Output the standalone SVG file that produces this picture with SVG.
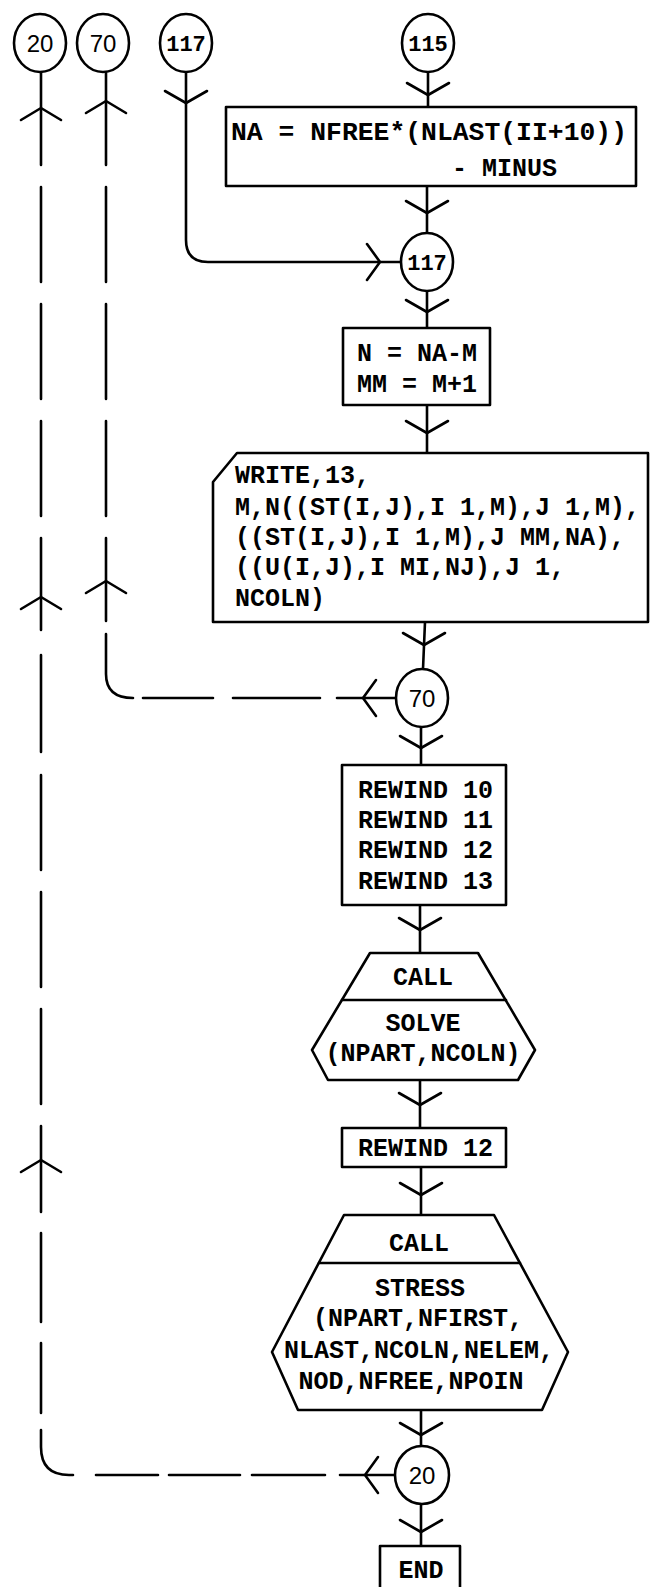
<svg xmlns="http://www.w3.org/2000/svg" xmlns:xlink="http://www.w3.org/1999/xlink" width="650" height="1587" viewBox="0 0 650 1587">
<style>
.s{fill:none;stroke:#000;stroke-width:2.6;stroke-linejoin:round;stroke-linecap:round}
.f{fill:#fff;stroke:#000;stroke-width:2.6;stroke-linejoin:round}
.t{font-family:"Liberation Mono","Courier New",monospace;font-weight:bold;font-size:25px;fill:#000}
.tn{font-family:"Liberation Mono","Courier New",monospace;font-weight:bold;font-size:22px;fill:#000;text-anchor:middle}
.ts{font-family:"Liberation Sans",Arial,sans-serif;font-size:24px;fill:#000;text-anchor:middle}
.m{text-anchor:middle}
</style>
<defs>
<path id="aD" d="M-21,-12 L0,0 L21,-12"/>
<path id="aU" d="M-20,12 L0,0 L20,12"/>
<path id="aL" d="M13,-18 L0,0 L13,18"/>
<path id="aR" d="M-13,-18 L0,0 L-13,18"/>
</defs>
<rect width="650" height="1587" fill="#fff"/>

<g id="connectors" class="s">
  <path d="M41,72 V165 M41,187 V282 M41,304 V399 M41,421 V516 M41,538 V630 M41,655 V752 M41,775 V870 M41,892 V987 M41,1009 V1104 M41,1126 V1212 M41,1233 V1322 M41,1343 V1413"/>
  <path d="M41,1430 V1447 Q41,1475 69,1475 H73 M96,1475 H158 M169,1475 H240 M252,1475 H325 M340,1475 H394"/>
  <use xlink:href="#aU" x="41" y="108"/>
  <use xlink:href="#aU" x="41" y="597"/>
  <use xlink:href="#aU" x="41" y="1160"/>
  <use xlink:href="#aL" x="365" y="1475"/>
  <path d="M106,72 V165 M106,187 V282 M106,304 V399 M106,421 V516 M106,538 V621"/>
  <path d="M106,634 V674 Q106,698 133,698 M143,698 H213 M233,698 H320 M337,698 H396"/>
  <use xlink:href="#aU" x="106" y="101"/>
  <use xlink:href="#aU" x="106" y="581"/>
  <use xlink:href="#aL" x="363" y="698"/>
  <path d="M186,72 V240 Q186,262 208,262 H401"/>
  <use xlink:href="#aD" x="186" y="103"/>
  <use xlink:href="#aR" x="380" y="262"/>
  <path d="M428,72 V107"/>
  <use xlink:href="#aD" x="428" y="95"/>
  <path d="M427,186 V233"/>
  <use xlink:href="#aD" x="427" y="213"/>
  <path d="M427,291 V328"/>
  <use xlink:href="#aD" x="427" y="312"/>
  <path d="M427,405 V453"/>
  <use xlink:href="#aD" x="427" y="433"/>
  <path d="M425,622 L423,669"/>
  <use xlink:href="#aD" x="424" y="645"/>
  <path d="M421,727 V765"/>
  <use xlink:href="#aD" x="421" y="748"/>
  <path d="M420,905 V953"/>
  <use xlink:href="#aD" x="420" y="930"/>
  <path d="M420,1080 V1128"/>
  <use xlink:href="#aD" x="420" y="1105"/>
  <path d="M421,1167 V1215"/>
  <use xlink:href="#aD" x="421" y="1195"/>
  <path d="M421,1410 V1446"/>
  <use xlink:href="#aD" x="421" y="1435"/>
  <path d="M421,1504 V1546"/>
  <use xlink:href="#aD" x="421" y="1532"/>
</g>

<g id="c20top"><ellipse class="f" cx="40" cy="43" rx="26" ry="29"/><text class="ts" x="40" y="52">20</text></g>
<g id="c70top"><ellipse class="f" cx="103" cy="43" rx="26" ry="29"/><text class="ts" x="103" y="52">70</text></g>
<g id="c117top"><ellipse class="f" cx="186" cy="43" rx="26" ry="29"/><text class="tn" x="186" y="51">117</text></g>
<g id="c115"><ellipse class="f" cx="428" cy="43" rx="26" ry="29"/><text class="tn" x="428" y="51">115</text></g>

<g id="boxNA">
  <rect class="f" x="226" y="107" width="410" height="79"/>
  <text class="t" x="231" y="140" textLength="396" lengthAdjust="spacingAndGlyphs">NA = NFREE*(NLAST(II+10))</text>
  <text class="t" x="452" y="176">- MINUS</text>
</g>

<g id="c117"><ellipse class="f" cx="427" cy="262" rx="26" ry="29"/><text class="tn" x="427" y="270">117</text></g>

<g id="boxN">
  <rect class="f" x="343" y="328" width="147" height="77"/>
  <text class="t" x="357" y="361">N = NA-M</text>
  <text class="t" x="357" y="392">MM = M+1</text>
</g>

<g id="boxWrite">
  <path class="f" d="M213,482 L237,453 H648 V622 H213 Z"/>
  <text class="t" x="235" y="483">WRITE,13,</text>
  <text class="t" x="235" y="515">M,N((ST(I,J),I 1,M),J 1,M),</text>
  <text class="t" x="235" y="545">((ST(I,J),I 1,M),J MM,NA),</text>
  <text class="t" x="235" y="575">((U(I,J),I MI,NJ),J 1,</text>
  <text class="t" x="235" y="606">NCOLN)</text>
</g>

<g id="c70"><ellipse class="f" cx="422" cy="698" rx="26" ry="29"/><text class="ts" x="422" y="707">70</text></g>

<g id="boxRewind">
  <rect class="f" x="342" y="765" width="164" height="140"/>
  <text class="t" x="358" y="798">REWIND 10</text>
  <text class="t" x="358" y="828">REWIND 11</text>
  <text class="t" x="358" y="858">REWIND 12</text>
  <text class="t" x="358" y="889">REWIND 13</text>
</g>

<g id="callSolve">
  <path class="f" d="M370,953 H478 L535,1050 L518,1080 H328 L312,1050 Z"/>
  <path class="s" d="M342,1000 H506"/>
  <text class="t m" x="423" y="985">CALL</text>
  <text class="t m" x="423" y="1031">SOLVE</text>
  <text class="t m" x="423" y="1061">(NPART,NCOLN)</text>
</g>

<g id="boxRewind12">
  <rect class="f" x="342" y="1128" width="164" height="39"/>
  <text class="t" x="358" y="1156">REWIND 12</text>
</g>

<g id="callStress">
  <path class="f" d="M344,1215 H494 L568,1352 L542,1410 H298 L272,1352 Z"/>
  <path class="s" d="M319,1263 H520"/>
  <text class="t m" x="419" y="1251">CALL</text>
  <text class="t m" x="420" y="1296">STRESS</text>
  <text class="t m" x="418" y="1326">(NPART,NFIRST,</text>
  <text class="t m" x="419" y="1358">NLAST,NCOLN,NELEM,</text>
  <text class="t m" x="411" y="1389">NOD,NFREE,NPOIN</text>
</g>

<g id="c20"><ellipse class="f" cx="422" cy="1475" rx="27" ry="29"/><text class="ts" x="422" y="1484">20</text></g>

<g id="boxEnd">
  <path class="f" d="M380,1590 V1546 H460 V1590"/>
  <text class="t m" x="421" y="1578">END</text>
</g>
</svg>
